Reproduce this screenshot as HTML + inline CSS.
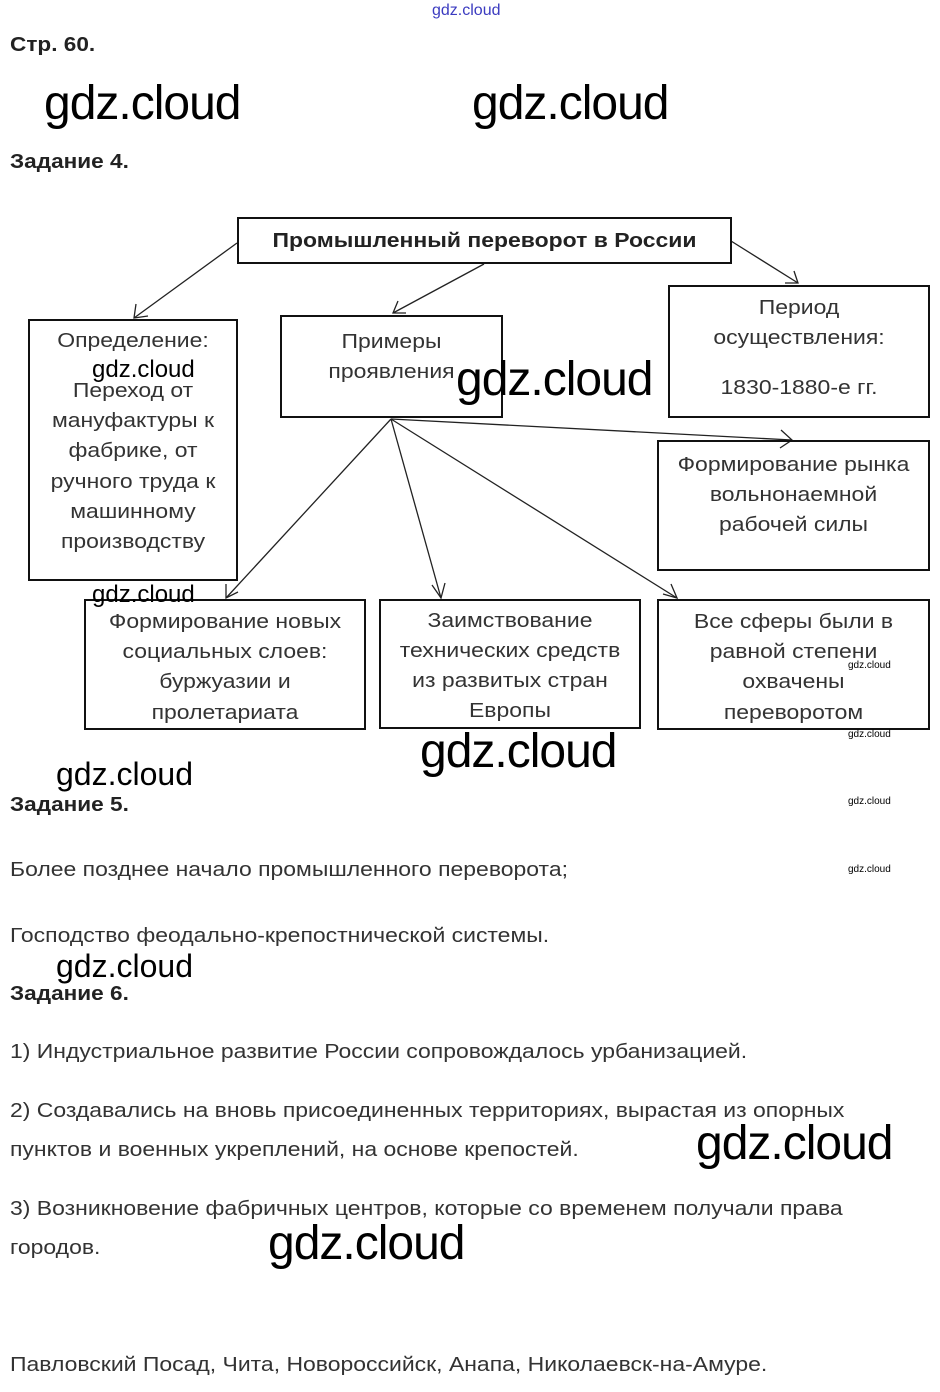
<!DOCTYPE html>
<html><head><meta charset="utf-8"><style>
body{margin:0;background:#fff;width:940px;height:1392px;position:relative;overflow:hidden;font-family:"Liberation Sans",Arial,sans-serif;color:#2a2a2a}
.a{position:absolute;white-space:nowrap;transform:scaleX(1.12);transform-origin:0 0}
.b{font-weight:bold;font-size:20px;color:#222;transform:scaleX(1.13)}
.t{font-size:20.5px;color:#333}
.w{position:absolute;font-family:"Liberation Sans",sans-serif;color:#000;font-size:48px;line-height:1;letter-spacing:-1px;white-space:nowrap}
.ws{position:absolute;font-family:"Liberation Sans Narrow","Liberation Sans",sans-serif;color:#000;font-size:24px;line-height:1;white-space:nowrap}
.wt{position:absolute;font-size:10px;color:#000;line-height:1}
.box{position:absolute;border:2px solid #111;box-sizing:border-box;text-align:center;font-size:20.5px;line-height:30.2px;color:#333}
.box>div{transform:scaleX(1.12);transform-origin:50% 0;white-space:nowrap}
.g{display:block;height:50px;line-height:30px}
</style></head><body>
<div class="a" style="left:432px;top:2px;font-size:16px;color:#3b3bc0;transform:none">gdz.cloud</div>
<div class="a b" style="left:10px;top:34px">Стр. 60.</div>
<div class="w" style="left:44px;top:80px">gdz.cloud</div>
<div class="w" style="left:472px;top:80px">gdz.cloud</div>
<div class="a b" style="left:10px;top:151px">Задание 4.</div>

<svg style="position:absolute;left:0;top:0" width="940" height="760">
<g stroke="#222" stroke-width="1.3" fill="none">
<line x1="237" y1="243" x2="134" y2="318"/><polyline points="136,304 134,318 148,316"/>
<line x1="484" y1="264" x2="393" y2="313"/><polyline points="398,301 393,313 406,313"/>
<line x1="731" y1="241" x2="798" y2="283"/><polyline points="785,283 798,283 794,271"/>
<line x1="391" y1="419" x2="792" y2="440"/><polyline points="781,430 792,440 780,448"/>
<line x1="391" y1="419" x2="226" y2="598"/><polyline points="226,584 226,598 238,592"/>
<line x1="391" y1="419" x2="441" y2="598"/><polyline points="432,585 441,598 445,583"/>
<line x1="391" y1="419" x2="677" y2="598"/><polyline points="671,584 677,598 663,594"/>
</g></svg>

<div class="box" style="left:237px;top:217px;width:495px;height:47px;font-weight:bold;line-height:43px;color:#222"><div>Промышленный переворот в России</div></div>
<div class="box" style="left:28px;top:319px;width:210px;height:262px;padding-top:5px"><div><span class="g">Определение:</span>Переход от<br>мануфактуры к<br>фабрике, от<br>ручного труда к<br>машинному<br>производству</div></div>
<div class="box" style="left:280px;top:315px;width:223px;height:103px;padding-top:10px;line-height:30px"><div>Примеры<br>проявления</div></div>
<div class="box" style="left:668px;top:285px;width:262px;height:133px;padding-top:6px"><div>Период<br><span class="g">осуществления:</span>1830-1880-е гг.</div></div>
<div class="box" style="left:657px;top:440px;width:273px;height:131px;padding-top:8px"><div>Формирование рынка<br>вольнонаемной<br>рабочей силы</div></div>
<div class="box" style="left:84px;top:599px;width:282px;height:131px;padding-top:6px"><div>Формирование новых<br>социальных слоев:<br>буржуазии и<br>пролетариата</div></div>
<div class="box" style="left:379px;top:599px;width:262px;height:130px;padding-top:5px;line-height:30px"><div>Заимствование<br>технических средств<br>из развитых стран<br>Европы</div></div>
<div class="box" style="left:657px;top:599px;width:273px;height:131px;padding-top:6px"><div>Все сферы были в<br>равной степени<br>охвачены<br>переворотом</div></div>

<div class="ws" style="left:92px;top:358px">gdz.cloud</div>
<div class="ws" style="left:92px;top:583px">gdz.cloud</div>
<div class="w" style="left:456px;top:356px">gdz.cloud</div>
<div class="wt" style="left:848px;top:661px">gdz.cloud</div>
<div class="wt" style="left:848px;top:730px">gdz.cloud</div>
<div class="w" style="left:420px;top:728px">gdz.cloud</div>
<div class="ws" style="left:56px;top:758px;font-size:32px">gdz.cloud</div>

<div class="a b" style="left:10px;top:794px">Задание 5.</div>
<div class="wt" style="left:848px;top:797px">gdz.cloud</div>
<div class="a t" style="left:10px;top:858px">Более позднее начало промышленного переворота;</div>
<div class="wt" style="left:848px;top:865px">gdz.cloud</div>
<div class="a t" style="left:10px;top:924px">Господство феодально-крепостнической системы.</div>
<div class="ws" style="left:56px;top:950px;font-size:32px">gdz.cloud</div>
<div class="a b" style="left:10px;top:983px">Задание 6.</div>
<div class="a t" style="left:10px;top:1040px">1) Индустриальное развитие России сопровождалось урбанизацией.</div>
<div class="a t" style="left:10px;top:1099px">2) Создавались на вновь присоединенных территориях, вырастая из опорных</div>
<div class="a t" style="left:10px;top:1138px">пунктов и военных укреплений, на основе крепостей.</div>
<div class="w" style="left:696px;top:1120px">gdz.cloud</div>
<div class="a t" style="left:10px;top:1197px">3) Возникновение фабричных центров, которые со временем получали права</div>
<div class="a t" style="left:10px;top:1236px">городов.</div>
<div class="w" style="left:268px;top:1220px">gdz.cloud</div>
<div class="a t" style="left:10px;top:1353px">Павловский Посад, Чита, Новороссийск, Анапа, Николаевск-на-Амуре.</div>
</body></html>
